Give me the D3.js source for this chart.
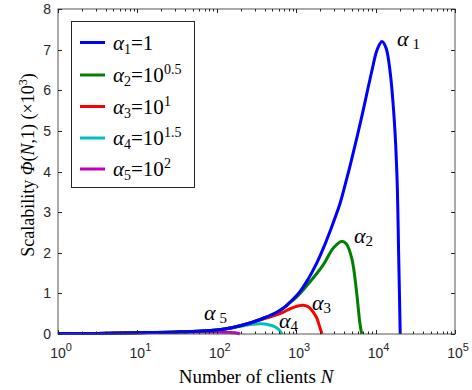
<!DOCTYPE html>
<html>
<head>
<meta charset="utf-8">
<script src="https://cdn.jsdelivr.net/npm/d3@7"></script>
<style>
  body { margin: 0; background: #fff; }
  svg { display: block; }
  .tick-label { font-family: "Liberation Sans", Arial, sans-serif; font-size: 14px; fill: #262626; }
  .serif { font-family: "Liberation Serif", "Times New Roman", serif; fill: #000; }
</style>
</head>
<body>
<svg id="chart" width="472" height="390"></svg>
<script>
// Curves: exponent of N (log10) and Φ(N,1) in units of 10^3
const logN1 = [0, 0.5, 1, 1.5, 2, 2.2, 2.42, 2.6, 2.75, 2.84, 2.92, 3.05, 3.15, 3.26, 3.35, 3.43, 3.55, 3.62, 3.68, 3.82, 3.95, 4.02, 4.08, 4.13, 4.18, 4.235, 4.27, 4.29, 4.31];
const phi1  = [0.01, 0.015, 0.03, 0.05, 0.1, 0.16, 0.27, 0.4, 0.53, 0.64, 0.78, 1.05, 1.35, 1.75, 2.15, 2.55, 3.2, 3.7, 4.15, 5.3, 6.45, 7.0, 7.2, 7.05, 6.5, 5.27, 3.84, 2.0, 0];

const logN2 = [0, 0.5, 1, 1.5, 2, 2.2, 2.42, 2.6, 2.75, 2.84, 2.92, 3.0, 3.13, 3.34, 3.45, 3.52, 3.57, 3.63, 3.70, 3.76, 3.80, 3.825];
const phi2  = [0.01, 0.015, 0.03, 0.05, 0.1, 0.16, 0.27, 0.4, 0.53, 0.64, 0.77, 0.9, 1.18, 1.70, 2.07, 2.22, 2.28, 2.22, 1.86, 1.04, 0.3, 0];

const logN3 = [0, 0.5, 1, 1.5, 2, 2.2, 2.42, 2.6, 2.75, 2.84, 2.92, 3.02, 3.09, 3.16, 3.22, 3.26, 3.30, 3.325];
const phi3  = [0.01, 0.015, 0.03, 0.05, 0.1, 0.16, 0.27, 0.38, 0.47, 0.54, 0.62, 0.69, 0.71, 0.66, 0.52, 0.39, 0.15, 0];

const logN4 = [0, 0.5, 1, 1.5, 2, 2.2, 2.35, 2.45, 2.56, 2.65, 2.72, 2.78, 2.82];
const phi4  = [0.01, 0.015, 0.03, 0.05, 0.1, 0.15, 0.21, 0.24, 0.25, 0.23, 0.19, 0.11, 0];

const logN5 = [0, 0.5, 1, 1.5, 1.8, 2.0, 2.15, 2.25, 2.29];
const phi5  = [0.01, 0.015, 0.03, 0.045, 0.05, 0.05, 0.04, 0.025, 0];

const seriesColors = ["#0000ff", "#008000", "#ff0000", "#00bfbf", "#bf00bf"];
// legend: "=10" exponent per entry (null means "=1")
const legendExp = [null, "0.5", "1", "1.5", "2"];
const yTicks = [0, 1, 2, 3, 4, 5, 6, 7, 8];
const xDecades = [0, 1, 2, 3, 4, 5];

const svg = d3.select("#chart");
const m = {left: 58, right: 455, top: 9, bottom: 334};

const x = d3.scaleLog().domain([1, 1e5]).range([m.left, m.right]);
const y = d3.scaleLinear().domain([0, 8]).range([m.bottom, m.top]);

const axisColor = "#262626";

// curves (last legend entry drawn first so α1 ends on top)
const all = [[logN1, phi1], [logN2, phi2], [logN3, phi3], [logN4, phi4], [logN5, phi5]];
const line = d3.line()
  .x(d => x(Math.pow(10, d[0])))
  .y(d => y(d[1]))
  .curve(d3.curveCatmullRom.alpha(0.5));

const curveGroup = svg.append("g");
for (let i = all.length - 1; i >= 0; i--) {
  const pts = all[i][0].map((v, k) => [v, all[i][1][k]]);
  curveGroup.append("path")
    .attr("d", line(pts))
    .attr("fill", "none")
    .attr("stroke", seriesColors[i])
    .attr("stroke-width", 3)
    .attr("stroke-linejoin", "round");
}

// box + inward ticks
const axes = svg.append("g").attr("stroke", axisColor).attr("stroke-width", 1).attr("fill", "none");
axes.append("rect")
  .attr("x", m.left).attr("y", m.top)
  .attr("width", m.right - m.left).attr("height", m.bottom - m.top)
  .attr("stroke", "#555");

yTicks.forEach(t => {
  const yy = Math.round(y(t)) + 0.5;
  axes.append("line").attr("x1", m.left).attr("x2", m.left + 4).attr("y1", yy).attr("y2", yy);
  axes.append("line").attr("x1", m.right).attr("x2", m.right - 4).attr("y1", yy).attr("y2", yy);
});

x.ticks().forEach(t => {
  const major = Math.abs(Math.log10(t) - Math.round(Math.log10(t))) < 1e-9;
  const len = major ? 4 : 2.5;
  const xx = Math.round(x(t)) + 0.5;
  axes.append("line").attr("x1", xx).attr("x2", xx).attr("y1", m.bottom).attr("y2", m.bottom - len);
  axes.append("line").attr("x1", xx).attr("x2", xx).attr("y1", m.top).attr("y2", m.top + len);
});

// tick labels
svg.append("g").selectAll("text")
  .data(yTicks).enter().append("text")
  .attr("class", "tick-label")
  .attr("x", 51)
  .attr("y", d => y(d) + 5)
  .attr("text-anchor", "end")
  .text(d => d);

const xl = svg.append("g").selectAll("text")
  .data(xDecades).enter().append("text")
  .attr("class", "tick-label")
  .attr("x", d => x(Math.pow(10, d)) + 3)
  .attr("y", 358)
  .attr("text-anchor", "middle");
xl.append("tspan").text("10");
xl.append("tspan").attr("dy", -7).attr("font-size", 11).text(d => d);

// axis titles
const xt = svg.append("text").attr("class", "serif")
  .attr("x", 256).attr("y", 383).attr("text-anchor", "middle").attr("font-size", 19);
xt.append("tspan").text("Number of clients ");
xt.append("tspan").attr("font-style", "italic").text("N");

const yt = svg.append("text").attr("class", "serif")
  .attr("transform", "translate(34,165) rotate(-90)")
  .attr("text-anchor", "middle").attr("font-size", 18);
yt.append("tspan").text("Scalability ");
yt.append("tspan").attr("font-style", "italic").text("\u03A6");
yt.append("tspan").text("(");
yt.append("tspan").attr("font-style", "italic").text("N");
yt.append("tspan").text(",1) (\u00D710");
yt.append("tspan").attr("dy", -7).attr("font-size", 12).text("3");
yt.append("tspan").attr("dy", 7).text(")");

// curve labels
const curveLabels = [
  {i: 1, x: 397, y: 46, gap: 4},
  {i: 2, x: 354, y: 243, gap: 0},
  {i: 3, x: 312, y: 310, gap: 0},
  {i: 4, x: 279, y: 328, gap: 0},
  {i: 5, x: 204, y: 320, gap: 4}
];
curveLabels.forEach(c => {
  const t = svg.append("text").attr("class", "serif").attr("x", c.x).attr("y", c.y).attr("font-size", 22);
  t.append("tspan").attr("font-style", "italic").text("\u03B1");
  t.append("tspan").attr("dx", c.gap).attr("dy", 3).attr("font-size", 15).text(c.i);
});

// legend
const lg = svg.append("g");
lg.append("rect")
  .attr("x", 71.5).attr("y", 21.5).attr("width", 123).attr("height", 166)
  .attr("fill", "#fff").attr("stroke", axisColor).attr("stroke-width", 1);
const rowY = [42.5, 75, 106.5, 138, 169];
legendExp.forEach((e, i) => {
  lg.append("line")
    .attr("x1", 80).attr("x2", 105).attr("y1", rowY[i]).attr("y2", rowY[i])
    .attr("stroke", seriesColors[i]).attr("stroke-width", 3);
  const t = lg.append("text").attr("class", "serif").attr("x", 113).attr("y", rowY[i] + 7).attr("font-size", 21);
  t.append("tspan").attr("font-style", "italic").text("\u03B1");
  t.append("tspan").attr("dy", 4).attr("font-size", 14).text(i + 1);
  if (e === null) {
    t.append("tspan").attr("dy", -4).text("=1");
  } else {
    t.append("tspan").attr("dy", -4).text("=10");
    t.append("tspan").attr("dy", -8).attr("font-size", 14).text(e);
  }
});
</script>
</body>
</html>
